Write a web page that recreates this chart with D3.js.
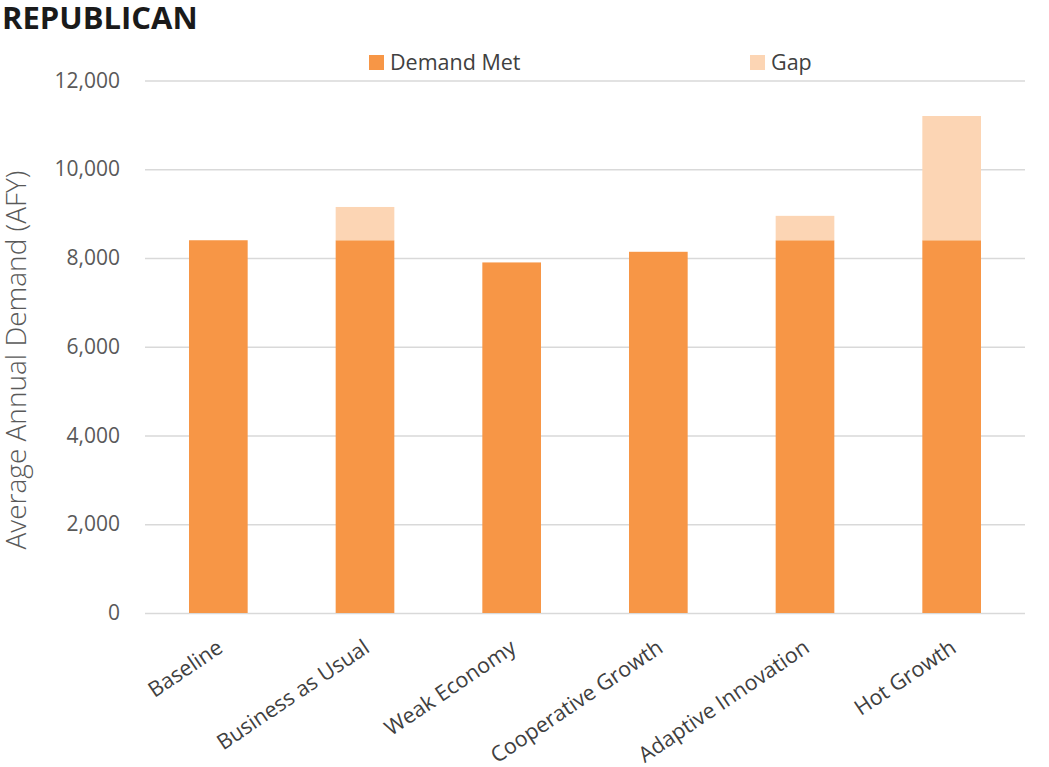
<!DOCTYPE html>
<html><head><meta charset="utf-8">
<script src="https://cdn.jsdelivr.net/npm/d3@7"></script>
<style>body{margin:0;background:#fff;} svg{display:block;font-family:"Open Sans","Noto Sans",sans-serif;}</style>
</head><body>
<svg id="chart" width="1049" height="767"></svg>
<script>
const categories = ["Baseline","Business as Usual","Weak Economy","Cooperative Growth","Adaptive Innovation","Hot Growth"];
const demandMet = [8400, 8400, 7900, 8140, 8400, 8400];
const gap = [0, 750, 0, 0, 550, 2800];
const seriesNames = ["Demand Met","Gap"];
const colors = ["#F79646","#FCD5B4"];
const yTicks = [0,2000,4000,6000,8000,10000,12000];

const svg = d3.select("#chart");
const plotLeft = 145, plotRight = 1025, plotTop = 80.5, plotBottom = 613;

const x = d3.scaleBand().domain(categories).range([plotLeft, plotRight]).paddingInner(0.6).paddingOuter(0.3);
const y = d3.scaleLinear().domain([0, 12000]).range([plotBottom, plotTop]);

// title
svg.append("text").attr("x", 2).attr("y", 29).text("REPUBLICAN")
  .attr("font-size", 31).attr("font-weight", "bold").attr("fill", "#1a1a1a");

// gridlines
const yAxis = d3.axisLeft(y).tickValues(yTicks).tickSize(-(plotRight-plotLeft)).tickPadding(25)
  .tickFormat(d3.format(","));
const gy = svg.append("g").attr("transform", `translate(${plotLeft},0)`).call(yAxis);
gy.select(".domain").remove();
gy.selectAll(".tick line").attr("stroke", "#d9d9d9").attr("stroke-width", 1.3);
gy.selectAll(".tick text").attr("font-size", 21).attr("fill", "#595959").attr("font-family", "'Open Sans'");

// bars
const data = categories.map((c, i) => ({c, met: demandMet[i], gap: gap[i]}));
const stack = d3.stack().keys(["met","gap"])(data);
stack.forEach((layer, li) => {
  svg.append("g").selectAll("rect").data(layer).join("rect")
    .attr("x", d => x(d.data.c))
    .attr("width", x.bandwidth())
    .attr("y", d => y(d[1]))
    .attr("height", d => y(d[0]) - y(d[1]))
    .attr("fill", colors[li]);
});

// x labels
svg.append("g").selectAll("text").data(categories).join("text")
  .attr("transform", d => `translate(${x(d) + x.bandwidth()/2 + 6},${plotBottom + 38}) rotate(-34)`)
  .attr("text-anchor", "end")
  .attr("font-size", 21.5).attr("fill", "#404040")
  .text(d => d);

// y axis title
svg.append("text").attr("transform", `translate(26,360) rotate(-90)`)
  .attr("text-anchor", "middle").attr("font-size", 28).attr("font-weight", 300)
  .attr("fill", "#595959").text("Average Annual Demand (AFY)");

// legend
const legX = [369, 750];
const lg = svg.append("g").selectAll("g").data(seriesNames).join("g")
  .attr("transform", (d, i) => `translate(${legX[i]},55)`);
lg.append("rect").attr("width", 15).attr("height", 15).attr("fill", (d, i) => colors[i]);
lg.append("text").attr("x", 21).attr("y", 15).attr("font-size", 21.5).attr("fill", "#404040").text(d => d);
</script>
</body></html>
